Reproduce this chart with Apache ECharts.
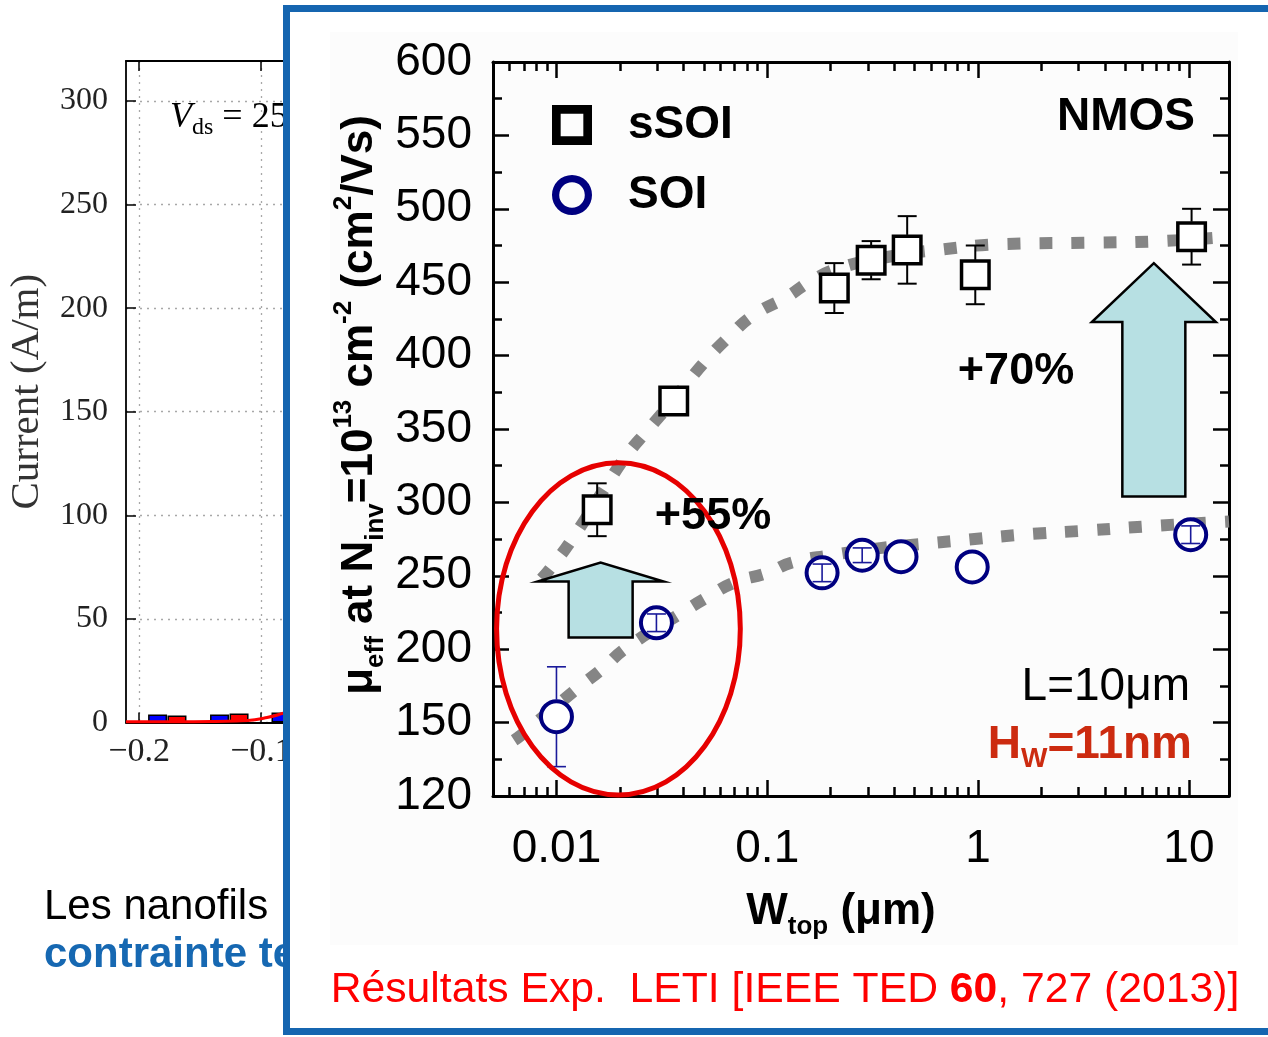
<!DOCTYPE html>
<html>
<head>
<meta charset="utf-8">
<script src="https://cdn.jsdelivr.net/npm/echarts@6/dist/echarts.min.js"></script>
<style>
  html, body { margin: 0; padding: 0; background: #fff; }
  #c { width: 1268px; height: 1037px; }
</style>
</head>
<body>
<div id="c"></div>
<script>
// ---------- Effective mobility vs. top width (front panel) ----------
const sSOI_W   = [0.0156, 0.036, 0.208, 0.311, 0.461, 0.97, 10.3];
const sSOI_mu  = [295, 369, 446, 465, 472, 455, 481];
const sSOI_err = [18, 0, 17, 13, 23, 20, 19];

const SOI_W   = [0.01, 0.0298, 0.182, 0.282, 0.431, 0.938, 10.2];
const SOI_mu  = [154, 218, 252, 264, 263, 256, 278];
const SOI_err = [34, 6, 6, 5, 0, 0, 6];

// guide-to-the-eye trend curves
const sSOI_fitW  = [0.0085, 0.0096, 0.012, 0.017, 0.0215, 0.027, 0.036, 0.05, 0.066, 0.087, 0.124, 0.162, 0.224, 0.4, 0.65, 1.33, 3.74, 7.45, 15.5];
const sSOI_fitMu = [248, 257, 276, 310, 332, 349, 370, 395, 413, 428, 440, 451, 460, 468, 472, 476, 477, 478, 481];
const SOI_fitW   = [0.0063, 0.0068, 0.0126, 0.0163, 0.0215, 0.039, 0.0514, 0.07, 0.1, 0.131, 0.2, 0.35, 0.573, 0.81, 1.61, 3.43, 6.8, 15.5];
const SOI_fitMu  = [138, 141.5, 173.5, 186, 201, 224.5, 235, 245.5, 252, 259, 264, 269, 272, 274, 278, 281, 284, 287];

const xTickValues = [0.01, 0.1, 1, 10];
const xTickLabels = ['0.01', '0.1', '1', '10'];
const yTickValues = [100, 150, 200, 250, 300, 350, 400, 450, 500, 550, 600];
const yTickLabels = ['120', '150', '200', '250', '300', '350', '400', '450', '500', '550', '600'];

// ---------- Current histogram (panel behind) ----------
const ivBlueX = [-0.1848, -0.134, -0.0836];
const ivBlue  = [3.9, 3.9, 4.8];
const ivRedX  = [-0.1689, -0.118, -0.068];
const ivRed   = [3.4, 4.3, 5.5];
const ivLineX = [-0.2107, -0.17, -0.14, -0.12, -0.105, -0.095, -0.085, -0.075];
const ivLineY = [0.4, 0.4, 0.45, 0.7, 1.3, 2.4, 3.9, 5.8];
const ivXTicks = [-0.2, -0.1];
const ivXLabels = ['\u22120.2', '\u22120.1'];
const ivYTicks = [0, 50, 100, 150, 200, 250, 300];

const SANS = '"Liberation Sans", Arial, sans-serif';
const SERIF = '"Liberation Serif", "Times New Roman", serif';

// heavy hollow legend icons (ring shapes)
const ICON_SQUARE = 'path://M0,0H30V30H0ZM6.5,6.5V23.5H23.5V6.5Z';
const ICON_CIRCLE = 'path://M0,18A18,18 0 1,1 36,18A18,18 0 1,1 0,18ZM6.5,18A11.5,11.5 0 1,0 29.5,18A11.5,11.5 0 1,0 6.5,18Z';

// minor decade ticks for the log axis
const xMinor = [];
[0.001, 0.01, 0.1, 1, 10].forEach(d => {
  for (let k = 2; k <= 9; k++) {
    const v = k * d;
    if (v > 0.0051 && v < 15.5) xMinor.push(v);
  }
});

function labelFor(vals, labels, v, isLog) {
  for (let i = 0; i < vals.length; i++) {
    const diff = isLog ? Math.log10(v) - Math.log10(vals[i]) : v - vals[i];
    if (Math.abs(diff) < 1e-6) return labels[i];
  }
  return '';
}

function errorBars(xs, ys, errs, opt) {
  const data = [];
  xs.forEach((x, i) => { if (errs[i] > 0) data.push([x, ys[i] - errs[i], ys[i] + errs[i], ys[i]]); });
  return {
    type: 'custom', xAxisIndex: 0, yAxisIndex: 0, zlevel: 2, z: opt.z, silent: true,
    encode: { x: 0, y: [1, 2] }, data,
    renderItem(params, api) {
      const lo = api.coord([api.value(0), api.value(1)]);
      const hi = api.coord([api.value(0), api.value(2)]);
      const c = api.coord([api.value(0), api.value(3)]);
      const x = c[0], h = opt.cap / 2;
      const st = { stroke: opt.color, lineWidth: opt.width };
      const kids = [
        { type: 'line', shape: { x1: x - h, y1: lo[1], x2: x + h, y2: lo[1] }, style: st },
        { type: 'line', shape: { x1: x - h, y1: hi[1], x2: x + h, y2: hi[1] }, style: st }
      ];
      if (lo[1] - c[1] > opt.r) {
        kids.push({ type: 'line', shape: { x1: x, y1: c[1] + opt.r, x2: x, y2: lo[1] }, style: st });
        kids.push({ type: 'line', shape: { x1: x, y1: hi[1], x2: x, y2: c[1] - opt.r }, style: st });
      } else {
        kids.push({ type: 'line', shape: { x1: x, y1: hi[1], x2: x, y2: lo[1] }, style: st });
      }
      return { type: 'group', children: kids };
    }
  };
}

const fitStyle = { color: '#858585', width: 12, type: [13, 19], cap: 'butt' };
const axisBlack = { color: '#000', width: 3 };

function logAxis(pos, values, len, withLabels, showLine) {
  return {
    gridIndex: 0, type: 'log', logBase: 10, min: 0.005, max: 15.5, position: pos, zlevel: 2,
    axisLine: { show: showLine, onZero: false, lineStyle: axisBlack },
    axisTick: { show: true, inside: true, length: len, customValues: values, lineStyle: { color: '#000', width: 2.5 } },
    axisLabel: withLabels ? {
      show: true, customValues: xTickValues, margin: 30, color: '#000', fontSize: 46, fontFamily: SANS,
      formatter: v => labelFor(xTickValues, xTickLabels, v, true)
    } : { show: false },
    splitLine: { show: false }, minorTick: { show: false }
  };
}

function muAxis(pos, withLabels) {
  return {
    gridIndex: 0, type: 'value', min: 100, max: 600, interval: 50, position: pos, zlevel: 2,
    axisLine: { show: true, onZero: false, lineStyle: axisBlack },
    axisTick: { show: true, inside: true, length: 16, lineStyle: { color: '#000', width: 2.5 } },
    minorTick: { show: true, splitNumber: 2, length: 9, lineStyle: { color: '#000', width: 2.5 } },
    axisLabel: withLabels ? {
      show: true, margin: 21, color: '#000', fontSize: 46, fontFamily: SANS,
      formatter: v => labelFor(yTickValues, yTickLabels, v, false)
    } : { show: false },
    splitLine: { show: false }
  };
}

const dotted = { color: '#a8a8a8', width: 1.3, type: [2, 5] };

const option = {
  backgroundColor: '#fff',
  animation: false,
  grid: [
    { left: 493, top: 62, width: 736, height: 734 },
    { left: 126, top: 61, width: 300, height: 661.5 }
  ],
  legend: {
    zlevel: 2, orient: 'vertical', left: 547, top: 95, itemWidth: 40, itemHeight: 40, itemGap: 20,
    selectedMode: false,
    data: [
      { name: 'sSOI', icon: ICON_SQUARE, itemStyle: { color: '#000', borderWidth: 0 } },
      { name: 'SOI', icon: ICON_CIRCLE, itemStyle: { color: '#000080', borderWidth: 0 } }
    ],
    textStyle: { fontSize: 46, fontWeight: 'bold', fontFamily: SANS, color: '#000', lineHeight: 50, padding: [0, 0, 0, 31] }
  },
  xAxis: [
    logAxis('bottom', xTickValues, 16, true, true),
    logAxis('bottom', xMinor, 9, false, false),
    logAxis('top', xTickValues, 16, false, true),
    logAxis('top', xMinor, 9, false, false),
    {
      gridIndex: 1, type: 'value', min: -0.2107, max: 0.0353, position: 'bottom', zlevel: 0,
      axisLine: { onZero: false, lineStyle: { color: '#000', width: 1.8 } },
      axisTick: { inside: true, length: 10, customValues: ivXTicks, lineStyle: { color: '#000', width: 1.5 } },
      axisLabel: { customValues: ivXTicks, margin: 13, color: '#222', fontSize: 34, fontFamily: SERIF,
        formatter: v => labelFor(ivXTicks, ivXLabels, v, false) },
      splitLine: { show: true, lineStyle: dotted }
    },
    {
      gridIndex: 1, type: 'value', min: -0.2107, max: 0.0353, position: 'top', zlevel: 0,
      axisLine: { onZero: false, lineStyle: { color: '#000', width: 1.8 } },
      axisTick: { inside: true, length: 10, customValues: ivXTicks, lineStyle: { color: '#000', width: 1.5 } },
      axisLabel: { show: false }, splitLine: { show: false }
    }
  ],
  yAxis: [
    muAxis('left', true),
    muAxis('right', false),
    {
      gridIndex: 1, type: 'value', min: 0, max: 319.3, position: 'left', zlevel: 0,
      axisLine: { show: true, onZero: false, lineStyle: { color: '#000', width: 1.8 } },
      axisTick: { inside: true, length: 10, customValues: ivYTicks, lineStyle: { color: '#000', width: 1.5 } },
      axisLabel: { customValues: ivYTicks, margin: 18, color: '#222', fontSize: 32, fontFamily: SERIF },
      splitLine: { show: true, lineStyle: dotted },
      name: 'Current (A/m)', nameLocation: 'middle', nameGap: 78, nameRotate: 90,
      nameTextStyle: { fontSize: 41, fontFamily: SERIF, color: '#333' }
    }
  ],
  series: [
    // panel behind
    {
      type: 'bar', xAxisIndex: 4, yAxisIndex: 2, zlevel: 0, z: 2, barWidth: 19, barGap: '-100%',
      data: ivBlueX.map((x, i) => [x, ivBlue[i]]),
      itemStyle: { color: '#0000ff', borderColor: '#000', borderWidth: 1.5 }
    },
    {
      type: 'bar', xAxisIndex: 4, yAxisIndex: 2, zlevel: 0, z: 2, barWidth: 19, barGap: '-100%',
      data: ivRedX.map((x, i) => [x, ivRed[i]]),
      itemStyle: { color: '#ff0000', borderColor: '#000', borderWidth: 1.5 }
    },
    {
      type: 'line', xAxisIndex: 4, yAxisIndex: 2, zlevel: 0, z: 3, smooth: true, showSymbol: false,
      data: ivLineX.map((x, i) => [x, ivLineY[i]]),
      lineStyle: { color: '#ff0000', width: 3 }
    },
    // front panel
    {
      type: 'line', xAxisIndex: 0, yAxisIndex: 0, zlevel: 2, z: 1, smooth: true, showSymbol: false, silent: true,
      data: sSOI_fitW.map((w, i) => [w, sSOI_fitMu[i]]), lineStyle: fitStyle
    },
    {
      type: 'line', xAxisIndex: 0, yAxisIndex: 0, zlevel: 2, z: 1, smooth: true, showSymbol: false, silent: true,
      data: SOI_fitW.map((w, i) => [w, SOI_fitMu[i]]), lineStyle: fitStyle
    },
    errorBars(sSOI_W, sSOI_mu, sSOI_err, { color: '#000', width: 2, cap: 19, r: 15, z: 4 }),
    {
      type: 'scatter', name: 'sSOI', xAxisIndex: 0, yAxisIndex: 0, zlevel: 2, z: 3,
      symbol: 'rect', symbolSize: 27.5,
      data: sSOI_W.map((w, i) => [w, sSOI_mu[i]]),
      itemStyle: { color: '#fff', borderColor: '#000', borderWidth: 3.5, opacity: 1 }
    },
    {
      type: 'scatter', name: 'SOI', xAxisIndex: 0, yAxisIndex: 0, zlevel: 2, z: 3,
      symbol: 'circle', symbolSize: 31,
      data: SOI_W.map((w, i) => [w, SOI_mu[i]]),
      itemStyle: { color: '#fff', borderColor: '#000080', borderWidth: 4, opacity: 1 }
    },
    errorBars(SOI_W, SOI_mu, SOI_err, { color: '#1a1a9a', width: 1.6, cap: 19, r: 17, z: 4 })
  ]
};

const chart = echarts.init(document.getElementById('c'));
chart.setOption(option);

// ---------- annotations placed in data space ----------
const arrowDefs = [
  { w: 0.0162, mu0: 208, mu1: 259, shaft: 64, head: 126, headLen: 19 },
  { w: 6.82, mu0: 304, mu1: 463, shaft: 63, head: 124, headLen: 59 }
];
const ellipseBox = { w0: 0.0052, w1: 0.0745, mu0: 100.7, mu1: 327 };

const px = (w, mu) => chart.convertToPixel({ xAxisIndex: 0, yAxisIndex: 0 }, [w, mu]);

const graphics = [];

// panel behind: annotation and page text
graphics.push({
  type: 'text', zlevel: 0, z: 10, x: 170, y: 118,
  style: {
    text: '{v|V}{s|ds}{t| = 25}', align: 'left', verticalAlign: 'middle',
    rich: {
      v: { fontFamily: SERIF, fontStyle: 'italic', fontSize: 36, lineHeight: 44, fill: '#000' },
      s: { fontFamily: SERIF, fontSize: 24, lineHeight: 24, verticalAlign: 'bottom', fill: '#000' },
      t: { fontFamily: SERIF, fontSize: 36, lineHeight: 44, fill: '#000' }
    }
  }
});
graphics.push({
  type: 'text', zlevel: 0, z: 10, x: 44, y: 907,
  style: { text: 'Les nanofils', fontFamily: SANS, fontSize: 42, fill: '#000', align: 'left', verticalAlign: 'middle' }
});
graphics.push({
  type: 'text', zlevel: 0, z: 10, x: 44, y: 955,
  style: { text: 'contrainte te', fontFamily: SANS, fontWeight: 'bold', fontSize: 42, fill: '#1668b2', align: 'left', verticalAlign: 'middle' }
});

// framed inset
graphics.push({
  type: 'rect', zlevel: 1, z: 0,
  shape: { x: 286.5, y: 8.5, width: 1000, height: 1023 },
  style: { fill: '#fff', stroke: '#1565b0', lineWidth: 7 }
});
graphics.push({
  type: 'rect', zlevel: 1, z: 1,
  shape: { x: 330, y: 32, width: 908, height: 913 },
  style: { fill: '#fcfcfc' }
});

// arrows
arrowDefs.forEach(a => {
  const b = px(a.w, a.mu0), t = px(a.w, a.mu1);
  const cx = t[0], sh = a.shaft / 2, hh = a.head / 2, base = t[1] + a.headLen;
  graphics.push({
    type: 'polygon', zlevel: 2, z: 10, silent: true,
    shape: { points: [[cx - sh, b[1]], [cx - sh, base], [cx - hh, base], [cx, t[1]], [cx + hh, base], [cx + sh, base], [cx + sh, b[1]]] },
    style: { fill: '#b7e0e3', stroke: '#000', lineWidth: 2.5, lineJoin: 'miter' }
  });
});

// highlight ellipse
{
  const p0 = px(ellipseBox.w0, ellipseBox.mu0), p1 = px(ellipseBox.w1, ellipseBox.mu1);
  graphics.push({
    type: 'ellipse', zlevel: 2, z: 11, silent: true,
    shape: { cx: (p0[0] + p1[0]) / 2, cy: (p0[1] + p1[1]) / 2, rx: Math.abs(p1[0] - p0[0]) / 2, ry: Math.abs(p1[1] - p0[1]) / 2 },
    style: { fill: 'none', stroke: '#e60000', lineWidth: 5 }
  });
}

const txt = (x, y, text, extra) => ({
  type: 'text', zlevel: 2, z: 12, x, y, silent: true,
  style: Object.assign({ text, fontFamily: SANS, fontSize: 46, fill: '#000', align: 'center', verticalAlign: 'middle' }, extra)
});

graphics.push(txt(1195, 117, 'NMOS', { fontWeight: 'bold', align: 'right' }));
graphics.push(txt(713, 517, '+55%', { fontWeight: 'bold', fontSize: 45 }));
graphics.push(txt(1016, 372, '+70%', { fontWeight: 'bold', fontSize: 45 }));
graphics.push(txt(1190, 687, 'L=10\u03bcm', { align: 'right' }));
graphics.push({
  type: 'text', zlevel: 2, z: 12, x: 1192, y: 745, silent: true,
  style: {
    text: '{m|H}{s|W}{m|=11nm}', align: 'right', verticalAlign: 'middle',
    rich: {
      m: { fontFamily: SANS, fontWeight: 'bold', fontSize: 46, lineHeight: 56, fill: '#cc2b10' },
      s: { fontFamily: SANS, fontWeight: 'bold', fontSize: 28, lineHeight: 28, verticalAlign: 'bottom', fill: '#cc2b10' }
    }
  }
});

// axis titles
graphics.push({
  type: 'text', zlevel: 2, z: 12, x: 841, y: 912, silent: true,
  style: {
    text: '{m|W}{s|top}{m| (\u03bcm)}', align: 'center', verticalAlign: 'middle',
    rich: {
      m: { fontFamily: SANS, fontWeight: 'bold', fontSize: 44, lineHeight: 56, fill: '#000' },
      s: { fontFamily: SANS, fontWeight: 'bold', fontSize: 26, lineHeight: 28, verticalAlign: 'bottom', fill: '#000' }
    }
  }
});
graphics.push({
  type: 'text', zlevel: 2, z: 12, x: 360, y: 405, rotation: Math.PI / 2, silent: true,
  style: {
    text: '{m|\u03bc}{s|eff}{m| at N}{s|inv}{m|=10}{p|13}{m| cm}{p|-2}{m| (cm}{p|2}{m|/Vs)}',
    align: 'center', verticalAlign: 'middle',
    rich: {
      m: { fontFamily: SANS, fontWeight: 'bold', fontSize: 44, lineHeight: 58, fill: '#000' },
      s: { fontFamily: SANS, fontWeight: 'bold', fontSize: 26, lineHeight: 28, verticalAlign: 'bottom', fill: '#000' },
      p: { fontFamily: SANS, fontWeight: 'bold', fontSize: 26, lineHeight: 34, verticalAlign: 'top', fill: '#000' }
    }
  }
});

// reference line
graphics.push({
  type: 'text', zlevel: 2, z: 12, x: 785, y: 990, silent: true,
  style: {
    text: '{r|R\u00e9sultats Exp.  LETI [IEEE TED }{b|60}{r|, 727 (2013)]}', align: 'center', verticalAlign: 'middle',
    rich: {
      r: { fontFamily: SANS, fontSize: 42.7, fill: '#ff0000' },
      b: { fontFamily: SANS, fontSize: 42.7, fontWeight: 'bold', fill: '#ff0000' }
    }
  }
});

chart.setOption({ graphic: { elements: graphics } });
</script>
</body>
</html>
